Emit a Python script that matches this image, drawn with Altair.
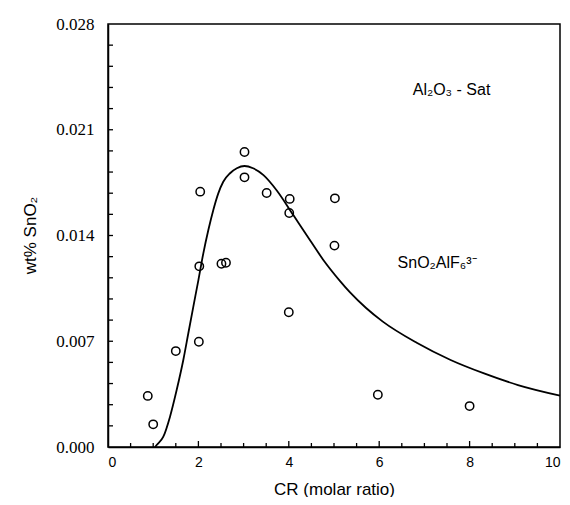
import altair as alt
import pandas as pd

# measured points
pt_x = [0.88, 1.00, 1.50, 2.01, 2.02, 2.04, 2.51, 2.61, 3.02, 3.02, 3.51, 4.02, 4.01, 4.00, 5.02, 5.01, 5.97, 8.00]
pt_y = [0.00338, 0.00150, 0.00635, 0.00697, 0.01196, 0.01690, 0.01213, 0.01220, 0.01953, 0.01785,
        0.01681, 0.01642, 0.01549, 0.00892, 0.01646, 0.01333, 0.00346, 0.00271]

# fitted curve
cv_x = [1.04, 1.077, 1.224, 1.372, 1.519, 1.666, 1.777, 1.888, 2.0, 2.109, 2.22, 2.33, 2.44, 2.55, 2.70,
        2.85, 3.02, 3.21, 3.44, 3.73, 4.10, 4.40, 4.76, 5.13, 5.35, 5.71, 6.08, 6.83, 7.58, 8.32, 9.07, 10.0]
cv_y = [0.0, 0.00013, 0.00068, 0.00201, 0.00377, 0.00576, 0.00753, 0.00929, 0.01105, 0.01282, 0.01436,
        0.01569, 0.01679, 0.01756, 0.01812, 0.01845, 0.0186, 0.01845, 0.0180, 0.0170, 0.01535, 0.0140,
        0.0124, 0.0110, 0.01025, 0.0092, 0.0083, 0.0069, 0.00576, 0.00487, 0.0041, 0.0034]

x_major = [0, 2, 4, 6, 8, 10]
x_minor = [i * 0.5 for i in range(1, 20)]
y_major = [0.0, 0.007, 0.014, 0.021, 0.028]
y_minor = [round(i * 0.0014, 4) for i in range(1, 20)]

labels = ["Al\u2082O\u2083 - Sat", "SnO\u2082AlF\u2086\u00b3\u207b"]
label_x = [7.6, 7.28]
label_y = [0.0236, 0.0122]

W, H = 452, 423
xs = alt.Scale(domain=[0, 10], nice=False)
ys = alt.Scale(domain=[0, 0.028], nice=False)

pts = pd.DataFrame({"x": pt_x, "y": pt_y})
cv = pd.DataFrame({"x": cv_x, "y": cv_y})

base_x = alt.X("x:Q", scale=xs, title="CR (molar ratio)",
               axis=alt.Axis(values=x_major, ticks=False, labelPadding=8, labelFont="Liberation Sans",
                             labelFontSize=14, labelColor="black", titleFont="Liberation Sans",
                             titleFontSize=17, titleFontWeight="normal", titleColor="black",
                             titlePadding=12, domainColor="black", domainWidth=1.5, grid=False))
base_y = alt.Y("y:Q", scale=ys, title="wt% SnO\u2082",
               axis=alt.Axis(values=y_major, format=".3f", ticks=False, labelPadding=14,
                             labelFont="Liberation Serif", labelFontSize=17, labelColor="black",
                             titleFont="Liberation Sans", titleFontSize=17, titleFontWeight="normal",
                             titleColor="black", titleX=-78, titleY=211, titleAlign="center",
                             titleBaseline="middle", domainColor="black", domainWidth=1.5, grid=False))

line = alt.Chart(cv).mark_line(color="black", strokeWidth=1.8, interpolate="monotone").encode(x=base_x, y=base_y)
points = alt.Chart(pts).mark_point(shape="circle", filled=False, color="black", size=70, strokeWidth=1.5,
                                   opacity=1).encode(
    x=alt.X("x:Q", scale=xs), y=alt.Y("y:Q", scale=ys))

xt_major = alt.Chart(pd.DataFrame({"x": x_major[1:-1]})).mark_rule(color="black", strokeWidth=1.3).encode(
    x=alt.X("x:Q", scale=xs), y=alt.value(H), y2=alt.value(H - 6))
xt_minor = alt.Chart(pd.DataFrame({"x": [v for v in x_minor if v not in x_major]})).mark_rule(
    color="black", strokeWidth=1.3).encode(x=alt.X("x:Q", scale=xs), y=alt.value(H), y2=alt.value(H - 4))
yt = alt.Chart(pd.DataFrame({"y": y_minor})).mark_rule(color="black", strokeWidth=1.3).encode(
    y=alt.Y("y:Q", scale=ys), x=alt.value(0), x2=alt.value(5))

ann = alt.Chart(pd.DataFrame({"x": label_x, "y": label_y, "t": labels})).mark_text(
    font="Liberation Sans", fontSize=16, color="black", align="center", baseline="middle").encode(
    x=alt.X("x:Q", scale=xs), y=alt.Y("y:Q", scale=ys), text="t:N")

chart = alt.layer(line, points, xt_major, xt_minor, yt, ann).properties(
    width=W, height=H, autosize=alt.AutoSizeParams(type="none"),
    padding={"left": 100, "top": 16, "right": 2, "bottom": 50},
    background="white",
).configure_view(stroke="black", strokeWidth=1.5)

chart.save("out.html", embed_options={"renderer": "svg", "actions": False})
